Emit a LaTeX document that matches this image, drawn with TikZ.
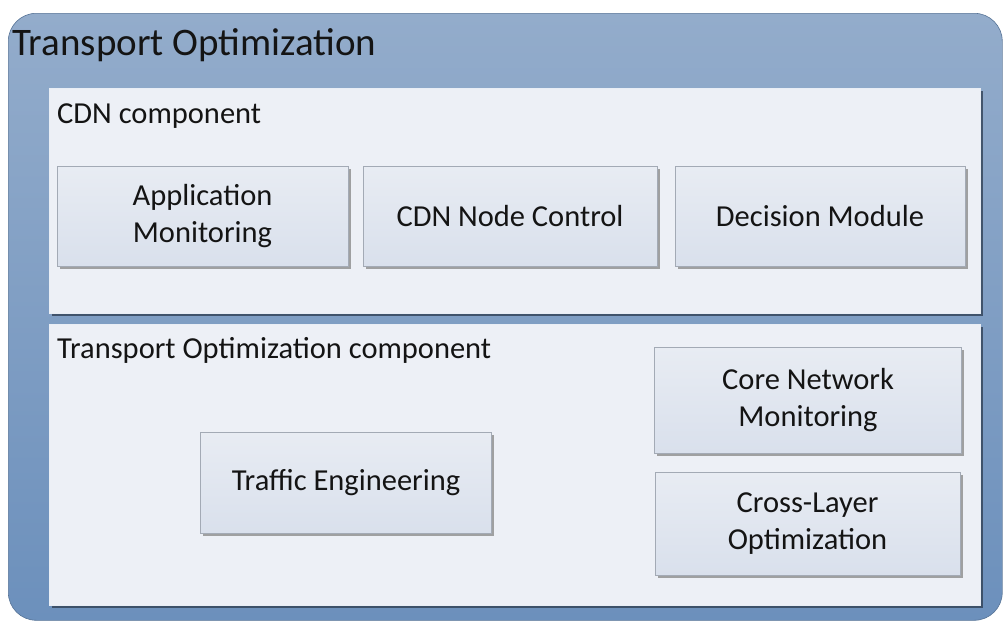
\documentclass[tikz,border=0pt]{standalone}
\usepackage{fontspec}
\setmainfont{Carlito}
\usetikzlibrary{shadows}
\definecolor{outerTop}{HTML}{93ACCB}
\definecolor{outerBot}{HTML}{6C90BC}
\definecolor{panelFill}{HTML}{EDF0F6}
\definecolor{boxTop}{HTML}{E8ECF3}
\definecolor{boxBot}{HTML}{D9E0EC}
\definecolor{boxLine}{HTML}{A3AAB5}
\definecolor{txt}{HTML}{141414}
\tikzset{
  outerbox/.style={draw=outerBot!80!black, line width=0.6pt, rounded corners=28pt, top color=outerTop, bottom color=outerBot, inner sep=0pt, anchor=north west},
  panelbox/.style={fill=panelFill, draw=white!85!outerBot, line width=0.6pt, inner sep=0pt, anchor=north west,
    drop shadow={shadow xshift=3pt, shadow yshift=-3pt, fill=black!55!outerBot, opacity=0.8}},
  compbox/.style={top color=boxTop, bottom color=boxBot, draw=boxLine, line width=0.8pt, inner sep=0pt,
    align=center, text=txt, font=\fontsize{30.5}{37}\selectfont,
    drop shadow={shadow xshift=2.5pt, shadow yshift=-2.5pt, fill=black!45, opacity=0.8}},
  lbl/.style={anchor=base west, inner sep=0pt, text=txt},
}
\begin{document}
\begin{tikzpicture}[x=1pt,y=-1pt]
\useasboundingbox (0,0) rectangle (1003,621);
\node[outerbox, minimum width=994pt, minimum height=607pt] (outer) at (8,13) {};
\node[lbl, font=\fontsize{39}{46}\selectfont] (title) at (12,55) {Transport Optimization};

\node[panelbox, minimum width=931pt, minimum height=225pt] (cdn) at (49,88) {};
\node[lbl, font=\fontsize{30.5}{37}\selectfont] (cdnlbl) at (57,123) {CDN component};

\node[panelbox, minimum width=931pt, minimum height=281pt] (top) at (49,324) {};
\node[lbl, font=\fontsize{30.5}{37}\selectfont] (toplbl) at (57,358) {Transport Optimization component};

\node[compbox, minimum width=291pt, minimum height=100pt] (appmon) at (202.5,216) {Application\\Monitoring};
\node[compbox, minimum width=294pt, minimum height=100pt] (cdnctl) at (510,216) {CDN Node Control};
\node[compbox, minimum width=290pt, minimum height=100pt] (decision) at (820,216) {Decision Module};

\node[compbox, minimum width=291pt, minimum height=101pt] (te) at (346,483) {Traffic Engineering};
\node[compbox, minimum width=307pt, minimum height=106pt] (cnm) at (808,400) {Core Network\\Monitoring};
\node[compbox, minimum width=305pt, minimum height=103pt] (clo) at (807.5,523.5) {Cross-Layer\\Optimization};
\end{tikzpicture}
\end{document}
